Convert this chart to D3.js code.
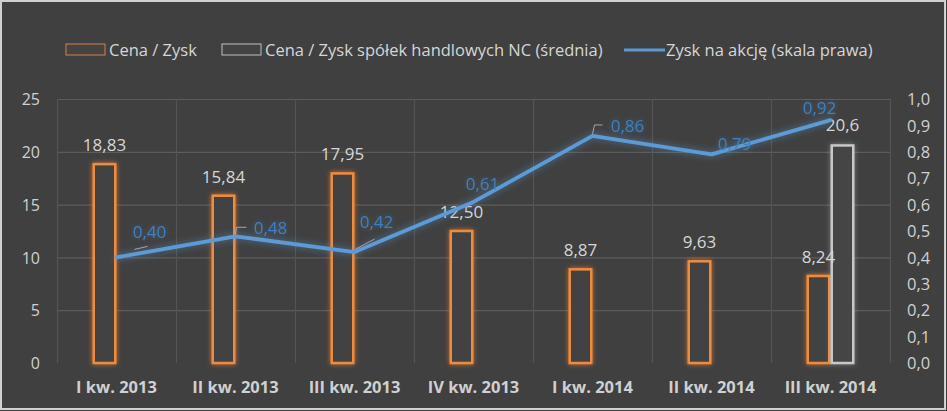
<!DOCTYPE html>
<html>
<head>
<meta charset="utf-8">
<script src="https://cdn.jsdelivr.net/npm/d3@7"></script>
<style>
  html, body { margin: 0; padding: 0; background: #404040; }
  svg { display: block; }
  text { font-family: "Open Sans", "Noto Sans", sans-serif; }
</style>
</head>
<body>
<svg id="chart" width="947" height="411"></svg>
<script>
// ---- data ----
const categories = ["I kw. 2013", "II kw. 2013", "III kw. 2013", "IV kw. 2013", "I kw. 2014", "II kw. 2014", "III kw. 2014"];
const cenaZysk = [18.83, 15.84, 17.95, 12.50, 8.87, 9.63, 8.24];
const cenaZyskNC = [null, null, null, null, null, null, 20.6];
const zyskNaAkcje = [0.40, 0.48, 0.42, 0.61, 0.86, 0.79, 0.92];
const leftTicks = [0, 5, 10, 15, 20, 25];
const rightTicks = [0, 0.1, 0.2, 0.3, 0.4, 0.5, 0.6, 0.7, 0.8, 0.9, 1.0];
const seriesNames = ["Cena / Zysk", "Cena / Zysk spółek handlowych NC (średnia)", "Zysk na akcję (skala prawa)"];
// label offsets for line data labels (styling, relative to point)
const lineLabelOffsets = [[33, -25], [35, -8], [22, -30], [9, -18], [35, -10], [23, -10], [-11, -12]];

// ---- layout ----
const W = 947, H = 411;
const plot = { left: 57, right: 890, top: 99, bottom: 363 };
const fmt1 = d3.formatLocale({ decimal: ",", thousands: " ", grouping: [3], currency: ["", ""] });
const f2 = fmt1.format(".2f"), f1 = fmt1.format(".1f");

const svg = d3.select("#chart");
const defs = svg.append("defs");

function glow(id, color, sd, op) {
  const f = defs.append("filter").attr("id", id)
    .attr("x", "-50%").attr("y", "-50%").attr("width", "200%").attr("height", "200%");
  f.append("feGaussianBlur").attr("in", "SourceAlpha").attr("stdDeviation", sd).attr("result", "b");
  f.append("feFlood").attr("flood-color", color).attr("flood-opacity", op);
  f.append("feComposite").attr("in2", "b").attr("operator", "in").attr("result", "g");
  const m = f.append("feMerge");
  m.append("feMergeNode").attr("in", "g");
  m.append("feMergeNode").attr("in", "SourceGraphic");
}
glow("glowO", "#ed7d31", 2.4, 0.8);
glow("glowG", "#bfbfbf", 2.4, 0.5);
glow("glowB", "#5b9bd5", 3.5, 0.6);
glow("glowT", "#5b9bd5", 2.5, 0.35);

// background + frame
svg.append("rect").attr("x", 0).attr("y", 0).attr("width", W).attr("height", H).attr("fill", "#404040");
svg.append("rect").attr("x", 1).attr("y", 1).attr("width", W - 3).attr("height", H - 3)
  .attr("fill", "none").attr("stroke", "#d0d0d0").attr("stroke-width", 2);

// scales
const x = d3.scaleBand().domain(categories).range([plot.left, plot.right]).padding(0);
const bw = x.bandwidth();
const x1 = d3.scaleBand().domain(["a", "b"]).range([bw / 2 - 24, bw / 2 + 24]).padding(0);
const yL = d3.scaleLinear().domain([0, 25]).range([plot.bottom, plot.top]);
const yR = d3.scaleLinear().domain([0, 1]).range([plot.bottom, plot.top]);

// gridlines
const grid = svg.append("g");
grid.selectAll("line.h").data(leftTicks.filter(d => d > 0)).join("line")
  .attr("x1", plot.left).attr("x2", plot.right)
  .attr("y1", d => yL(d) + 0.5).attr("y2", d => yL(d) + 0.5)
  .attr("stroke", "#5c5c5c").attr("stroke-width", 1.2);
const vlines = categories.map(c => x(c)).concat([plot.right]);
grid.selectAll("line.v").data(vlines).join("line")
  .attr("x1", d => d + 0.5).attr("x2", d => d + 0.5)
  .attr("y1", plot.top).attr("y2", plot.bottom)
  .attr("stroke", "#545454").attr("stroke-width", 1.2);

// left axis
const axL = svg.append("g").attr("transform", `translate(${plot.left - 17},0)`)
  .call(d3.axisLeft(yL).tickValues(leftTicks).tickSize(0).tickPadding(0));
axL.select(".domain").remove();
axL.selectAll("text").attr("fill", "#d0d0d0").style("font-size", "16px").attr("dy", "0.35em");

// right axis
const axR = svg.append("g").attr("transform", `translate(${plot.right + 17},0)`)
  .call(d3.axisRight(yR).tickValues(rightTicks).tickFormat(f1).tickSize(0).tickPadding(0));
axR.select(".domain").remove();
axR.selectAll("text").attr("fill", "#d0d0d0").style("font-size", "16.5px").attr("dy", "0.35em");

// bottom category labels
const axB = svg.append("g").attr("transform", `translate(0,${plot.bottom + 24})`)
  .call(d3.axisBottom(x).tickSize(0).tickPadding(0));
axB.select(".domain").remove();
axB.selectAll("text").attr("fill", "#d0d0d0").style("font-size", "16.5px").style("font-weight", "bold").attr("dy", "0.35em");

// bars: Cena / Zysk
const bars = svg.append("g");
bars.selectAll("rect.o").data(cenaZysk).join("rect")
  .attr("x", (d, i) => x(categories[i]) + x1("a") + 1.25)
  .attr("y", d => yL(d))
  .attr("width", x1.bandwidth() - 2.5)
  .attr("height", d => yL(0) - yL(d))
  .attr("fill", "#434343").attr("stroke", "#f08b3e").attr("stroke-width", 2.5)
  .attr("filter", "url(#glowO)");
bars.selectAll("rect.g").data(cenaZyskNC.map((v, i) => ({ v, i })).filter(d => d.v != null)).join("rect")
  .attr("x", d => x(categories[d.i]) + x1("b") + 1.25)
  .attr("y", d => yL(d.v))
  .attr("width", x1.bandwidth() - 2.5)
  .attr("height", d => yL(0) - yL(d.v))
  .attr("fill", "#454545").attr("stroke", "#c8c8c8").attr("stroke-width", 2.5)
  .attr("filter", "url(#glowG)");

// bar labels
svg.append("g").selectAll("text").data(cenaZysk).join("text")
  .attr("x", (d, i) => x(categories[i]) + x1("a") + x1.bandwidth() / 2)
  .attr("y", d => yL(d) - 19).attr("dy", "0.35em")
  .attr("text-anchor", "middle").attr("fill", "#d6d6d6").style("font-size", "17px")
  .text(d => f2(d));
svg.append("g").selectAll("text").data(cenaZyskNC.map((v, i) => ({ v, i })).filter(d => d.v != null)).join("text")
  .attr("x", d => x(categories[d.i]) + x1("b") + x1.bandwidth() / 2)
  .attr("y", d => yL(d.v) - 20).attr("dy", "0.35em")
  .attr("text-anchor", "middle").attr("fill", "#d6d6d6").style("font-size", "17px")
  .text(d => f1(d.v));

// line: Zysk na akcję
const pts = zyskNaAkcje.map((v, i) => [x(categories[i]) + bw / 2, yR(v)]);
svg.append("path").datum(pts)
  .attr("d", d3.line())
  .attr("fill", "none").attr("stroke", "#5b9bd5").attr("stroke-width", 3.8)
  .attr("stroke-linejoin", "round").attr("stroke-linecap", "round")
  .attr("filter", "url(#glowB)");

// leader lines (for a few labels)
const leaders = [[[18, -8], [31, -11]], [[0, -2], [1, -9], [11, -9]], [[1, -3], [20, -13]], null, [[0, -2], [2, -11], [10, -11]], null, null];
svg.append("g").selectAll("path").data(leaders.map((l, i) => ({ l, i })).filter(d => d.l)).join("path")
  .attr("d", d => d3.line()(d.l.map(p => [pts[d.i][0] + p[0], pts[d.i][1] + p[1]])))
  .attr("fill", "none").attr("stroke", "#a6a6a6").attr("stroke-width", 1);

// line labels
svg.append("g").selectAll("text").data(zyskNaAkcje).join("text")
  .attr("x", (d, i) => pts[i][0] + lineLabelOffsets[i][0])
  .attr("y", (d, i) => pts[i][1] + lineLabelOffsets[i][1]).attr("dy", "0.35em")
  .attr("text-anchor", "middle").attr("fill", "#3a80c4").style("font-size", "17px")
  .attr("filter", "url(#glowT)")
  .text(d => f2(d));

// legend
const leg = svg.append("g").attr("transform", "translate(0,50)");
leg.append("rect").attr("x", 66).attr("y", -6).attr("width", 39).attr("height", 11)
  .attr("fill", "#434343").attr("stroke", "#d9804a").attr("stroke-width", 1);
leg.append("text").attr("x", 109).attr("y", 0).attr("dy", "0.35em").attr("fill", "#d6d6d6").style("font-size", "16.5px").text(seriesNames[0]);
leg.append("rect").attr("x", 222).attr("y", -6).attr("width", 39).attr("height", 11)
  .attr("fill", "#434343").attr("stroke", "#bfbfbf").attr("stroke-width", 1);
leg.append("text").attr("x", 265).attr("y", 0).attr("dy", "0.35em").attr("fill", "#d6d6d6").style("font-size", "16.5px").text(seriesNames[1]);
leg.append("line").attr("x1", 624).attr("x2", 665).attr("y1", 0).attr("y2", 0)
  .attr("stroke", "#5b9bd5").attr("stroke-width", 3);
leg.append("text").attr("x", 666).attr("y", 0).attr("dy", "0.35em").attr("fill", "#d6d6d6").style("font-size", "16.5px").text(seriesNames[2]);
</script>
</body>
</html>
